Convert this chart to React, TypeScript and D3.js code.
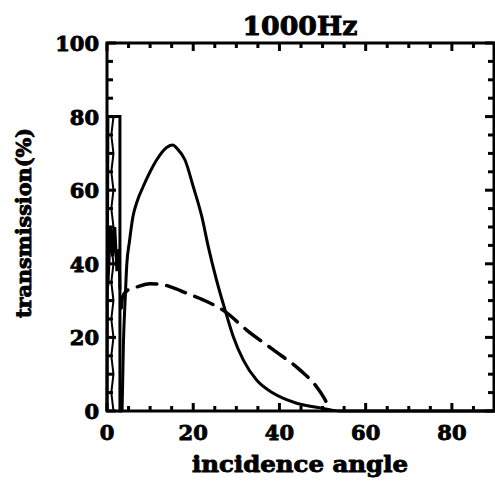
import React from "react";
import * as d3 from "d3";

const W = 495;
const H = 487;

const xTicks = [0, 20, 40, 60, 80];
const yTicks = [0, 20, 40, 60, 80, 100];
const title = "1000Hz";
const xTitle = "incidence angle";
const yTitle = "transmission(%)";

// solid curve, low-angle box part (angle, transmission %)
const spikeAngle = [0, 0.2, 3.0, 3.0, 3.5];
const spikeValue = [0, 80, 80, 0, 0];

// solid curve, main lobe
const solidAngle = [3.5, 3.8, 4.2, 4.6, 5.2, 6.0, 7.0, 8.4, 10.0, 11.5, 13.9, 15.3, 16.2, 18.1, 20.0, 22.0, 23.5, 25.4, 27.4, 29.3, 31.6, 34.7, 38.6, 44.0, 50.2, 54.0, 90.0];
const solidValue = [0, 18, 30, 40, 46, 52.7, 57, 61, 65, 68.2, 71.7, 72.3, 71.4, 68.2, 61.0, 52.8, 44.6, 35.6, 27.4, 20.2, 13.9, 8.4, 4.8, 2.1, 0.7, 0, 0];

// dashed curve
const dashAngle = [3.3, 3.6, 5.0, 6.9, 9.9, 12.5, 14.6, 18.5, 22.3, 27.4, 32.4, 38.6, 44.8, 48.6, 51.0, 51.6];
const dashValue = [28, 31, 33, 33.7, 34.6, 34.4, 33.8, 32.0, 30.2, 27.0, 22.0, 16.6, 11.1, 6.6, 2.1, 0.5];

// jagged low-angle fragments
const jagAngle = [0.2, 0.8, 1.3, 1.8, 2.3, 2.8, 3.0];
const jagValue = [34, 50, 42, 50, 38, 44, 33];
const wigAngle = [1.5, 1.0, 1.5, 1.0, 1.5, 1.0, 1.5, 1.0, 1.5, 1.0, 1.5, 1.0, 1.5, 1.0, 1.5, 1.0, 1.5];
const wigValue = [80, 75, 70, 65, 60, 55, 50, 45, 40, 35, 30, 25, 20, 15, 10, 5, 0];

const FONT = "'DejaVu Serif', serif";

export default function App() {
  const x = d3.scaleLinear().domain([0, 90]).range([107, 495]);
  const y = d3.scaleLinear().domain([0, 100]).range([411, 43]);
  const line = d3
    .line<[number, number]>()
    .x((d) => x(d[0]))
    .y((d) => y(d[1]));
  const smooth = d3
    .line<[number, number]>()
    .x((d) => x(d[0]))
    .y((d) => y(d[1]))
    .curve(d3.curveMonotoneX);

  const zip = (a: number[], b: number[]) => a.map((v, i) => [v, b[i]] as [number, number]);
  const spike = zip(spikeAngle, spikeValue);
  const solid = zip(solidAngle, solidValue);
  const dashed = zip(dashAngle, dashValue);
  const jag = zip(jagAngle, jagValue);
  const wig = zip(wigAngle, wigValue);

  const xMinor = d3.range(0, 91, 5);
  const yMinor = d3.range(0, 101, 5);
  const x0 = x(0), xr = 494, yb = y(0), yt = y(100);

  const textStyle: React.CSSProperties = {
    fontFamily: FONT,
    fontWeight: 900,
    stroke: "#000",
    strokeWidth: 0.9,
    fill: "#000",
  };

  const tickEls: React.ReactNode[] = [];
  xMinor.forEach((v) => {
    const len = v % 20 === 0 ? 8 : 5;
    tickEls.push(<rect key={"xb" + v} x={x(v) - 1.5} y={yb - len} width={3} height={len} fill="#000" />);
    tickEls.push(<rect key={"xt" + v} x={x(v) - 1.5} y={yt} width={3} height={len} fill="#000" />);
  });
  yMinor.forEach((v) => {
    const len = v % 20 === 0 ? 9 : 6;
    tickEls.push(<rect key={"yl" + v} x={x0} y={y(v) - 1.5} width={len} height={3} fill="#000" />);
    tickEls.push(<rect key={"yr" + v} x={xr - len} y={y(v) - 1.5} width={len} height={3} fill="#000" />);
  });

  return (
    <svg
      width={W}
      height={H}
      style={{ position: "absolute", left: 0, top: 0, background: "#fff" }}
    >
      <rect x={0} y={0} width={W} height={H} fill="#fff" />
      <rect
        x={x0}
        y={yt}
        width={xr - x0}
        height={yb - yt}
        fill="none"
        stroke="#000"
        strokeWidth={3}
      />
      <g>{tickEls}</g>
      <path d={line(wig) || ""} fill="none" stroke="#000" strokeWidth={2} />
      <path d={line(jag) || ""} fill="none" stroke="#000" strokeWidth={3} />
      <path d={line(spike) || ""} fill="none" stroke="#000" strokeWidth={3} />
      <path d={smooth(solid) || ""} fill="none" stroke="#000" strokeWidth={3} strokeLinejoin="round" />
      <path
        d={smooth(dashed) || ""}
        fill="none"
        stroke="#000"
        strokeWidth={3.5}
        strokeDasharray="20 10"
        strokeLinecap="round"
      />
      {xTicks.map((v) => (
        <text key={"xl" + v} x={x(v)} y={440} textAnchor="middle" fontSize={21} style={textStyle}>
          {v}
        </text>
      ))}
      {yTicks.map((v) => (
        <text key={"yl" + v} x={99} y={y(v) + 8} textAnchor="end" fontSize={21} style={textStyle}>
          {v}
        </text>
      ))}
      <text x={300} y={35} textAnchor="middle" fontSize={26} textLength={115} lengthAdjust="spacingAndGlyphs" style={textStyle}>
        {title}
      </text>
      <text x={300} y={472} textAnchor="middle" fontSize={23} textLength={216} lengthAdjust="spacingAndGlyphs" style={textStyle}>
        {xTitle}
      </text>
      <text transform={`translate(31,223) rotate(-90)`} textAnchor="middle" fontSize={21} textLength={190} lengthAdjust="spacingAndGlyphs" style={textStyle}>
        {yTitle}
      </text>
    </svg>
  );
}
